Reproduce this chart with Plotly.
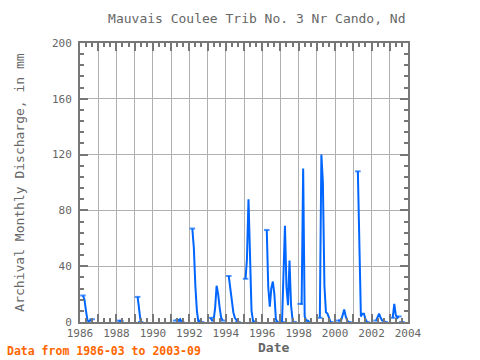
import plotly.graph_objects as go

# monthly discharge (mm); None marks a gap in the record
months = [
    "1986-03", "1986-04", "1986-05", "1986-06", "1986-07", "1986-08", "1986-09", "1986-10",
    "1988-03", "1988-04", "1988-05",
    "1989-03", "1989-04", "1989-05", "1989-06",
    "1991-04", "1991-05", "1991-06", "1991-07", "1991-08", "1991-09",
    "1992-03", "1992-04", "1992-05", "1992-06", "1992-07", "1992-08", "1992-09", "1992-10",
    "1993-03", "1993-04", "1993-05", "1993-06", "1993-07", "1993-08", "1993-09", "1993-10", "1993-11", "1993-12",
    "1994-03", "1994-04", "1994-05", "1994-06", "1994-07", "1994-08", "1994-09", "1994-10",
    "1995-02", "1995-03", "1995-04", "1995-05", "1995-06", "1995-07", "1995-08", "1995-09",
    "1996-04", "1996-05", "1996-06", "1996-07", "1996-08", "1996-09", "1996-10", "1996-11", "1996-12",
    "1997-02", "1997-03", "1997-04", "1997-05", "1997-06", "1997-07", "1997-08", "1997-09", "1997-10", "1997-11",
    "1998-02", "1998-03", "1998-04", "1998-05", "1998-06", "1998-07", "1998-08", "1998-09",
    "1999-03", "1999-04", "1999-05", "1999-06", "1999-07", "1999-08", "1999-09", "1999-10", "1999-11",
    "2000-03", "2000-04", "2000-05", "2000-06", "2000-07", "2000-08", "2000-09", "2000-10", "2000-11",
    "2001-04", "2001-05", "2001-06", "2001-07", "2001-08", "2001-09", "2001-10", "2001-11",
    "2002-04", "2002-05", "2002-06", "2002-07", "2002-08", "2002-09", "2002-10", "2002-11",
    "2003-03", "2003-04", "2003-05", "2003-06", "2003-07", "2003-08", "2003-09",
]
discharge = [
    19, 16, 8, 1, 0.5, 1, 2, None,
    1, 0.5, None,
    18, 10, 0, None,
    1, 2, 1, 2, 0, None,
    67, 53, 26, 8, 0, 1, 0, None,
    3, 1, 1, 10, 26, 20, 10, 3, 1, None,
    33, 25, 14, 7, 3, 1, 0, None,
    31, 45, 88, 56, 8, 1, 0, None,
    66, 25, 11, 24, 29, 20, 2, 0, None,
    0, 35, 69, 25, 12, 44, 12, 1, 0, None,
    13, 13, 110, 4, 1, 1, 0, None,
    3, 120, 100, 26, 7, 6, 3, 0, None,
    1, 1, 1, 5, 9, 4, 1, 0, None,
    108, 57, 4, 6, 6, 2, 0, None,
    1, 3, 6, 3, 1, 1, 0, None,
    3, 13, 5, 3, 4, None, 0,
]

year_ticks = list(range(1986, 2005))
year_labels = [str(y) if y % 2 == 0 else "" for y in year_ticks]
y_ticks = [0, 40, 80, 120, 160, 200]

x_dates = [m + "-01" for m in months]

# marker only at the ends of each continuous run of data
n = len(discharge)
marker_sizes = []
for i, v in enumerate(discharge):
    if v is None:
        marker_sizes.append(0)
        continue
    prev_gap = i == 0 or discharge[i - 1] is None
    next_gap = i == n - 1 or discharge[i + 1] is None
    marker_sizes.append(4 if (prev_gap or next_gap) else 0)

fig = go.Figure()
fig.add_trace(go.Scatter(
    x=x_dates, y=discharge, mode="lines+markers", connectgaps=False,
    line=dict(color="#0066ff", width=2),
    marker=dict(symbol="line-ew", size=marker_sizes, color="#0066ff",
                line=dict(color="#0066ff", width=2)),
    showlegend=False,
))

mono = "DejaVu Sans Mono"
grey = "#666666"
fig.update_layout(
    width=480, height=360,
    margin=dict(l=80, r=72, t=43, b=38),
    paper_bgcolor="white", plot_bgcolor="white",
    font=dict(family=mono, color=grey, size=11),
    title=dict(text="Mauvais Coulee Trib No. 3 Nr Cando, Nd", x=0.535, xanchor="center",
               y=0.95, yanchor="middle", font=dict(family=mono, size=13, color=grey)),
    annotations=[
        dict(text="<b>Data from 1986-03 to 2003-09</b>", xref="paper", yref="paper",
             x=-0.229, y=-0.105, xanchor="left", yanchor="middle", showarrow=False,
             font=dict(family=mono, size=11.5, color="#ff6600")),
        dict(text="<b>Date</b>", xref="paper", yref="paper",
             x=0.591, y=-0.09, xanchor="center", yanchor="middle", showarrow=False,
             font=dict(family=mono, size=13, color=grey)),
    ],
)
fig.update_xaxes(
    type="date",
    range=["1986-01-01", "2004-01-01"],
    tickvals=[f"{y}-01-01" for y in year_ticks], ticktext=year_labels,
    ticks="inside", ticklen=8, tickwidth=2, tickcolor="#777777",
    minor=dict(dtick="M4", ticks="inside", ticklen=4, tickwidth=2, tickcolor="#777777", showgrid=False),
    showgrid=True, gridcolor="#b0b0b0", gridwidth=1,
    showline=True, linecolor="#777777", linewidth=2, mirror="ticks",
    tickfont=dict(family=mono, size=11, color=grey),
    zeroline=False,
)
fig.update_yaxes(
    range=[0, 200], tickvals=y_ticks,
    ticks="inside", ticklen=8, tickwidth=2, tickcolor="#777777",
    minor=dict(dtick=8, ticks="inside", ticklen=4, tickwidth=2, tickcolor="#777777", showgrid=False),
    showgrid=True, gridcolor="#b0b0b0", gridwidth=1,
    showline=True, linecolor="#777777", linewidth=2, mirror="ticks",
    tickfont=dict(family=mono, size=11, color=grey), ticklabelstandoff=4,
    title=dict(text="Archival Monthly Discharge, in mm", font=dict(family=mono, size=13, color=grey), standoff=24),
    zeroline=False,
)

fig.write_html("out.html", config={"displayModeBar": False},
               post_script="document.body.style.margin='0';document.body.style.overflow='hidden';")
